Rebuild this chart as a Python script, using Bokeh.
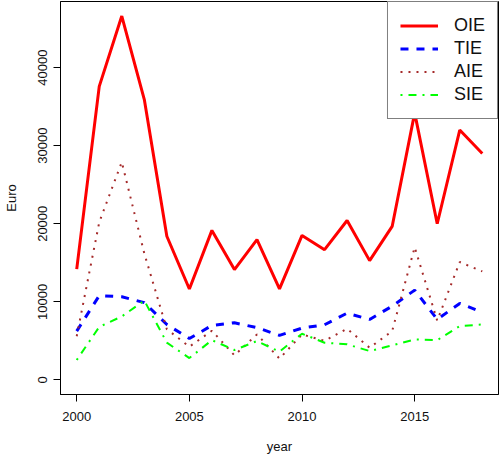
from bokeh.plotting import figure
from bokeh.models import Range1d, FixedTicker, Legend, LegendItem, ColumnDataSource
from bokeh.embed import file_html
from bokeh.resources import INLINE

# ---- data ----
years = list(range(2000, 2019))
oie = [14200, 37600, 46600, 35900, 18400, 11650, 19150, 14130, 17960, 11660,
       18510, 16680, 20420, 15280, 19660, 34200, 20000, 32000, 29000]
tie = [6250, 10800, 10650, 9900, 7100, 5300, 6980, 7320, 6700, 5700,
       6640, 7070, 8550, 7750, 9450, 11500, 7750, 9800, 8680]
aie = [5600, 20200, 27900, 16200, 6500, 4260, 6300, 3150, 5830, 2730,
       5830, 5000, 6560, 4130, 6250, 17000, 7600, 15100, 13900]
sie = [2550, 6800, 8130, 10170, 4770, 2800, 5100, 3830, 4980, 3620,
       5920, 4770, 4560, 3700, 4430, 5190, 5100, 6890, 7100]
series_names = ["OIE", "TIE", "AIE", "SIE"]
x_ticks = [2000, 2005, 2010, 2015]
y_ticks = [0, 10000, 20000, 30000, 40000]

FONT = "Liberation Sans"

src = ColumnDataSource(dict(year=years, OIE=oie, TIE=tie, AIE=aie, SIE=sie))

xmin, xmax = min(years), max(years)
xpad = 0.04 * (xmax - xmin)
ymax = max(oie)
ypad = 0.04 * ymax

p = figure(width=500, height=457, output_backend="svg", toolbar_location=None,
           x_range=Range1d(xmin - xpad, xmax + xpad),
           y_range=Range1d(0 - ypad, ymax + ypad),
           x_axis_label="year", y_axis_label="Euro")
p.min_border_left = 60
p.min_border_right = 2
p.min_border_top = 1
p.min_border_bottom = 63
p.background_fill_color = "white"
p.border_fill_color = "white"
p.outline_line_color = "black"
p.outline_line_width = 1
p.grid.visible = False

styles = [
    ("OIE", "#FF0000", 3, "solid"),
    ("TIE", "#0000FF", 3, "8 8"),
    ("AIE", "#A52A2A", 2, "2 6"),
    ("SIE", "#00FF00", 2, "2 6 8 6"),
]
renderers = []
for name, col, w, dash in styles:
    r = p.line("year", name, source=src, line_color=col, line_width=w, line_dash=dash)
    renderers.append(r)

for ax in (p.xaxis[0], p.yaxis[0]):
    ax.axis_line_color = "black"
    ax.major_tick_line_color = "black"
    ax.major_tick_out = 7
    ax.major_tick_in = 0
    ax.minor_tick_line_color = None
    ax.major_label_text_font = FONT
    ax.major_label_text_font_size = "13px"
    ax.major_label_text_color = "#111111"
    ax.axis_label_text_font = FONT
    ax.axis_label_text_font_size = "13px"
    ax.axis_label_text_font_style = "normal"
    ax.axis_label_text_color = "#111111"

p.xaxis[0].ticker = FixedTicker(ticks=x_ticks)
p.yaxis[0].ticker = FixedTicker(ticks=y_ticks)
p.xaxis[0].major_label_standoff = 10
p.xaxis[0].axis_label_standoff = 15
p.yaxis[0].major_label_orientation = "vertical"
p.yaxis[0].major_label_standoff = 6
p.yaxis[0].axis_label_standoff = 17

legend = Legend(items=[LegendItem(label=n, renderers=[r]) for n, r in zip(series_names, renderers)],
                location="top_right")
legend.margin = 0
legend.padding = 12
legend.spacing = 0
legend.glyph_width = 38
legend.glyph_height = 23
legend.label_height = 23
legend.label_standoff = 16
legend.label_text_font = FONT
legend.label_text_font_size = "18px"
legend.label_text_color = "#111111"
legend.border_line_color = "black"
legend.border_line_width = 1
legend.background_fill_color = "white"
legend.background_fill_alpha = 1.0
p.add_layout(legend, "center")

open("out.html", "w").write(file_html(p, INLINE))
